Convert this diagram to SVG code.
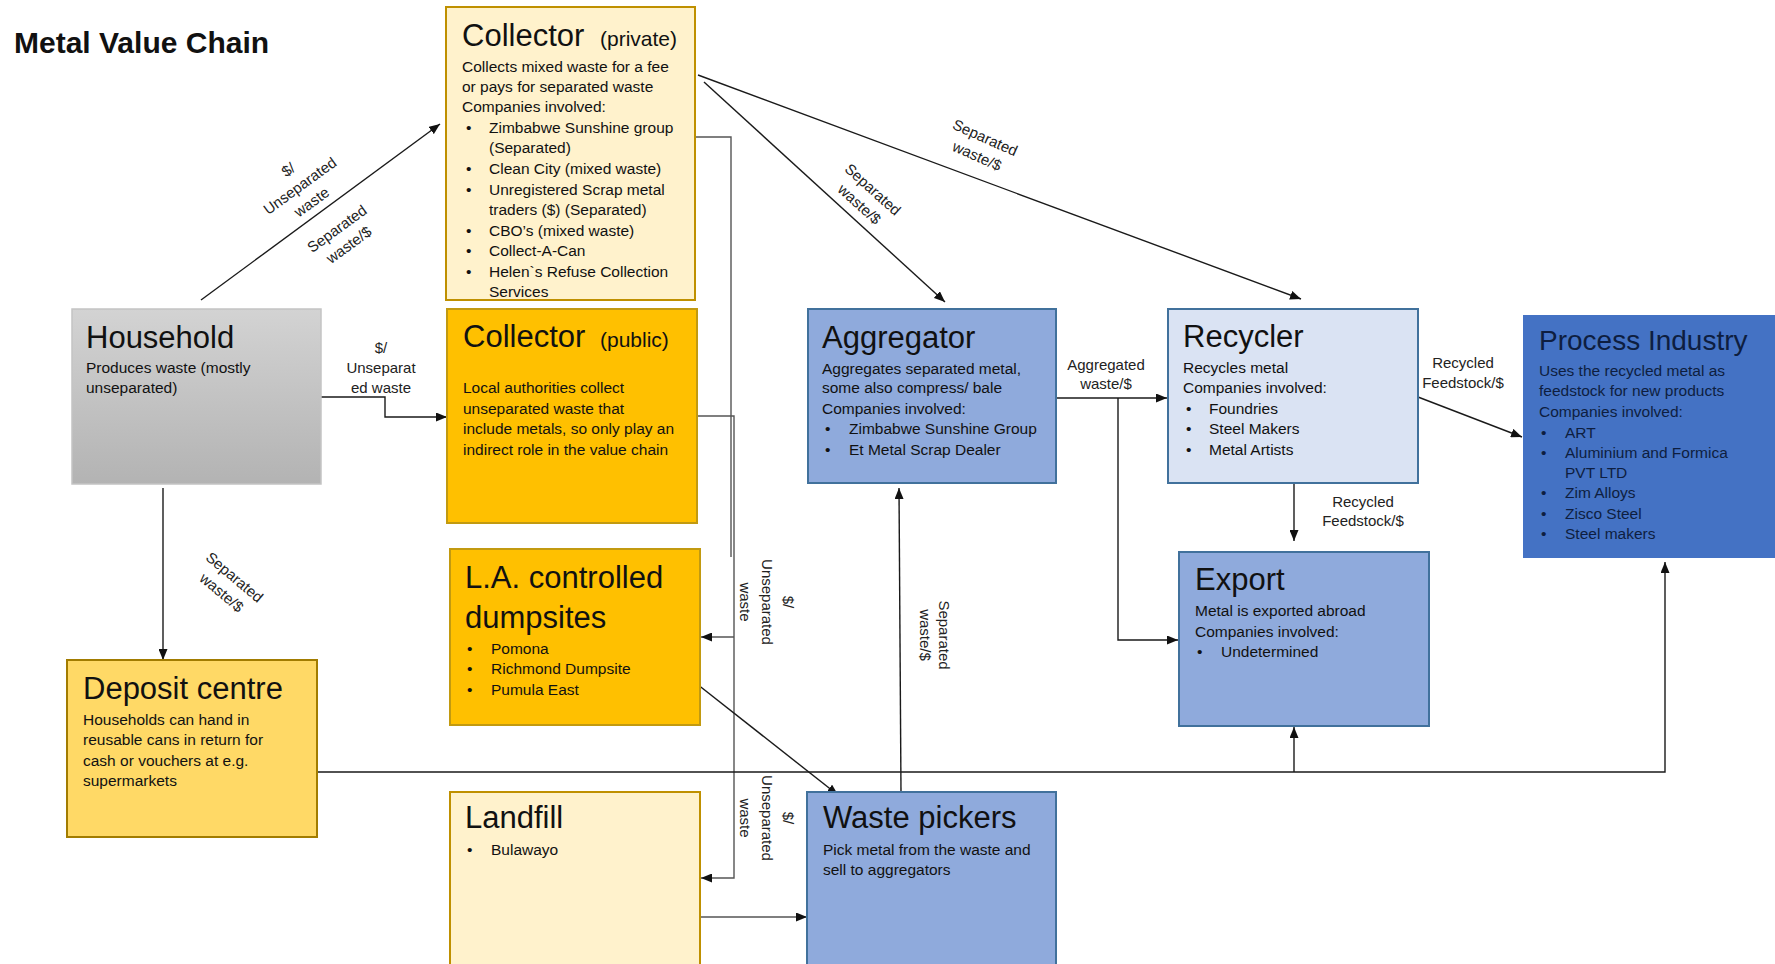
<svg xmlns="http://www.w3.org/2000/svg" width="1775" height="964" viewBox="0 0 1775 964">
<defs>
<marker id="arr" markerUnits="userSpaceOnUse" markerWidth="11" markerHeight="9" refX="11" refY="4.5" orient="auto">
<path d="M0,0 L11,4.5 L0,9 z" fill="#111"/>
</marker>
<linearGradient id="gray" x1="0" y1="0" x2="0" y2="1">
<stop offset="0" stop-color="#D3D3D3"/>
<stop offset="1" stop-color="#B3B3B3"/>
</linearGradient>
<style>
text{font-family:"Liberation Sans",Arial,sans-serif;fill:#111}
.title{font-size:31px}
.sub{font-size:21px}
.body{font-size:15.5px}
.lbl{font-size:15px;fill:#222;text-anchor:middle}
.conn{fill:none;stroke:#1a1a1a;stroke-width:1.4}
.connG{fill:none;stroke:#555;stroke-width:1.4}
.yl{fill:#FFF2CC;stroke:#BF9000;stroke-width:2}
.or{fill:#FFC000;stroke:#C29A10;stroke-width:2}
.bl{fill:#8FAADC;stroke:#41719C;stroke-width:2}
.lb{fill:#DAE3F3;stroke:#41719C;stroke-width:2}
.pi text{fill:#0E1E40}
</style>
</defs>
<rect width="1775" height="964" fill="#fff"/>
<text x="14" y="53" font-size="30" font-weight="bold">Metal Value Chain</text>

<g id="connectors">
<path class="conn" d="M201,300 L440,124" marker-end="url(#arr)"/>
<path class="conn" d="M321,397 H385 V417 H447" marker-end="url(#arr)"/>
<path class="conn" d="M163,488 V660" marker-end="url(#arr)"/>
<path class="conn" d="M704,82 L945,302" marker-end="url(#arr)"/>
<path class="conn" d="M698,75 L1301,299" marker-end="url(#arr)"/>
<path class="connG" d="M695,137 H731 V557"/>
<path class="connG" d="M697,416 H734 V878 H701" marker-end="url(#arr)"/>
<path class="connG" d="M734,637 H701" marker-end="url(#arr)"/>
<path class="conn" d="M697,684 L838,795" marker-end="url(#arr)"/>
<path class="connG" d="M700,917 H807" marker-end="url(#arr)"/>
<path class="conn" d="M901,792 L899,488" marker-end="url(#arr)"/>
<path class="conn" d="M317,772 H1665 V562" marker-end="url(#arr)"/>
<path class="conn" d="M1294,772 V727" marker-end="url(#arr)"/>
<path class="conn" d="M1056,398 H1167" marker-end="url(#arr)"/>
<path class="conn" d="M1118,398 V640 H1178" marker-end="url(#arr)"/>
<path class="conn" d="M1294,483 V541" marker-end="url(#arr)"/>
<path class="conn" d="M1418,397 L1522,437" marker-end="url(#arr)"/>

<g transform="translate(300,186) rotate(-36)"><text class="lbl"><tspan x="0" y="-15">$/</tspan><tspan x="0" y="5">Unseparated</tspan><tspan x="0" y="25">waste</tspan></text></g>
<g transform="translate(343,237) rotate(-36)"><text class="lbl"><tspan x="0" y="-5">Separated</tspan><tspan x="0" y="15">waste/$</tspan></text></g>
<text class="lbl"><tspan x="381" y="353">$/</tspan><tspan x="381" y="373">Unseparat</tspan><tspan x="381" y="393">ed waste</tspan></text>
<g transform="translate(228,585) rotate(40)"><text class="lbl"><tspan x="0" y="-5">Separated</tspan><tspan x="0" y="15">waste/$</tspan></text></g>
<g transform="translate(866,197) rotate(42)"><text class="lbl"><tspan x="0" y="-5">Separated</tspan><tspan x="0" y="15">waste/$</tspan></text></g>
<g transform="translate(981,147) rotate(24)"><text class="lbl"><tspan x="0" y="-5">Separated</tspan><tspan x="0" y="15">waste/$</tspan></text></g>
<g transform="translate(767,602) rotate(90)"><text class="lbl"><tspan x="0" y="-16">$/</tspan><tspan x="0" y="5">Unseparated</tspan><tspan x="0" y="27">waste</tspan></text></g>
<g transform="translate(767,818) rotate(90)"><text class="lbl"><tspan x="0" y="-16">$/</tspan><tspan x="0" y="5">Unseparated</tspan><tspan x="0" y="27">waste</tspan></text></g>
<g transform="translate(935,635) rotate(90)"><text class="lbl"><tspan x="0" y="-4">Separated</tspan><tspan x="0" y="15">waste/$</tspan></text></g>
<text class="lbl"><tspan x="1106" y="370">Aggregated</tspan><tspan x="1106" y="389">waste/$</tspan></text>
<text class="lbl"><tspan x="1363" y="507">Recycled</tspan><tspan x="1363" y="526">Feedstock/$</tspan></text>
<text class="lbl"><tspan x="1463" y="368">Recycled</tspan><tspan x="1463" y="388">Feedstock/$</tspan></text>
</g>

<g id="collector-private">
<rect class="yl" x="446" y="7" width="249" height="293"/>
<text class="title" x="462" y="46">Collector<tspan class="sub" x="600">(private)</tspan></text>
<text class="body">
<tspan x="462" y="72">Collects mixed waste for a fee</tspan>
<tspan x="462" y="92">or pays for separated waste</tspan>
<tspan x="462" y="112">Companies involved:</tspan>
<tspan x="466" y="133">•</tspan><tspan x="489" y="133">Zimbabwe Sunshine group</tspan>
<tspan x="489" y="153">(Separated)</tspan>
<tspan x="466" y="174">•</tspan><tspan x="489" y="174">Clean City (mixed waste)</tspan>
<tspan x="466" y="195">•</tspan><tspan x="489" y="195">Unregistered Scrap metal</tspan>
<tspan x="489" y="215">traders ($) (Separated)</tspan>
<tspan x="466" y="236">•</tspan><tspan x="489" y="236">CBO’s (mixed waste)</tspan>
<tspan x="466" y="256">•</tspan><tspan x="489" y="256">Collect-A-Can</tspan>
<tspan x="466" y="277">•</tspan><tspan x="489" y="277">Helen`s Refuse  Collection</tspan>
<tspan x="489" y="297">Services</tspan>
</text>
</g>

<g id="collector-public">
<rect class="or" x="447" y="309" width="250" height="214"/>
<text class="title" x="463" y="347">Collector<tspan class="sub" x="600">(public)</tspan></text>
<text class="body">
<tspan x="463" y="393">Local  authorities collect</tspan>
<tspan x="463" y="414">unseparated waste that</tspan>
<tspan x="463" y="434">include metals, so only play an</tspan>
<tspan x="463" y="455">indirect role in the value chain</tspan>
</text>
</g>

<g id="household">
<rect x="72" y="309" width="249" height="175" fill="url(#gray)" stroke="#C4C4C4" stroke-width="1.5"/>
<text class="title" x="86" y="348">Household</text>
<text class="body"><tspan x="86" y="373">Produces waste (mostly</tspan><tspan x="86" y="393">unseparated)</tspan></text>
</g>

<g id="la-dumpsites">
<rect class="or" x="450" y="549" width="250" height="176"/>
<text class="title" x="465" y="588">L.A. controlled</text>
<text class="title" x="465" y="628">dumpsites</text>
<text class="body">
<tspan x="467" y="654">•</tspan><tspan x="491" y="654">Pomona</tspan>
<tspan x="467" y="674">•</tspan><tspan x="491" y="674">Richmond Dumpsite</tspan>
<tspan x="467" y="695">•</tspan><tspan x="491" y="695">Pumula East</tspan>
</text>
</g>

<g id="deposit-centre">
<rect x="67" y="660" width="250" height="177" fill="#FFD966" stroke="#A27C00" stroke-width="2"/>
<text class="title" x="83" y="699">Deposit centre</text>
<text class="body">
<tspan x="83" y="725">Households can hand in</tspan>
<tspan x="83" y="745">reusable cans in return for</tspan>
<tspan x="83" y="766">cash or vouchers at e.g.</tspan>
<tspan x="83" y="786">supermarkets</tspan>
</text>
</g>

<g id="landfill">
<rect class="yl" x="450" y="792" width="250" height="190"/>
<text class="title" x="465" y="828">Landfill</text>
<text class="body"><tspan x="467" y="855">•</tspan><tspan x="491" y="855">Bulawayo</tspan></text>
</g>

<g id="waste-pickers">
<rect class="bl" x="807" y="792" width="249" height="190"/>
<text class="title" x="823" y="828">Waste pickers</text>
<text class="body"><tspan x="823" y="855">Pick metal from the waste and</tspan><tspan x="823" y="875">sell to aggregators</tspan></text>
</g>

<g id="aggregator">
<rect class="bl" x="808" y="309" width="248" height="174"/>
<text class="title" x="822" y="348">Aggregator</text>
<text class="body">
<tspan x="822" y="374">Aggregates separated metal,</tspan>
<tspan x="822" y="393">some also compress/ bale</tspan>
<tspan x="822" y="414">Companies involved:</tspan>
<tspan x="825" y="434">•</tspan><tspan x="849" y="434">Zimbabwe Sunshine Group</tspan>
<tspan x="825" y="455">•</tspan><tspan x="849" y="455">Et Metal Scrap Dealer</tspan>
</text>
</g>

<g id="recycler">
<rect class="lb" x="1168" y="309" width="250" height="174"/>
<text class="title" x="1183" y="347">Recycler</text>
<text class="body">
<tspan x="1183" y="373">Recycles metal</tspan>
<tspan x="1183" y="393">Companies involved:</tspan>
<tspan x="1186" y="414">•</tspan><tspan x="1209" y="414">Foundries</tspan>
<tspan x="1186" y="434">•</tspan><tspan x="1209" y="434">Steel Makers</tspan>
<tspan x="1186" y="455">•</tspan><tspan x="1209" y="455">Metal Artists</tspan>
</text>
</g>

<g id="export">
<rect class="bl" x="1179" y="552" width="250" height="174"/>
<text class="title" x="1195" y="590">Export</text>
<text class="body">
<tspan x="1195" y="616">Metal is exported abroad</tspan>
<tspan x="1195" y="637">Companies involved:</tspan>
<tspan x="1197" y="657">•</tspan><tspan x="1221" y="657">Undetermined</tspan>
</text>
</g>

<g id="process-industry" class="pi">
<rect x="1523" y="315" width="260" height="243" fill="#4472C4"/>
<text x="1539" y="350" font-size="28">Process Industry</text>
<text class="body">
<tspan x="1539" y="376">Uses the recycled metal as</tspan>
<tspan x="1539" y="396">feedstock for new products</tspan>
<tspan x="1539" y="417">Companies involved:</tspan>
<tspan x="1541" y="438">•</tspan><tspan x="1565" y="438">ART</tspan>
<tspan x="1541" y="458">•</tspan><tspan x="1565" y="458">Aluminium and Formica</tspan>
<tspan x="1565" y="478">PVT LTD</tspan>
<tspan x="1541" y="498">•</tspan><tspan x="1565" y="498">Zim Alloys</tspan>
<tspan x="1541" y="519">•</tspan><tspan x="1565" y="519">Zisco Steel</tspan>
<tspan x="1541" y="539">•</tspan><tspan x="1565" y="539">Steel makers</tspan>
</text>
</g>
</svg>
